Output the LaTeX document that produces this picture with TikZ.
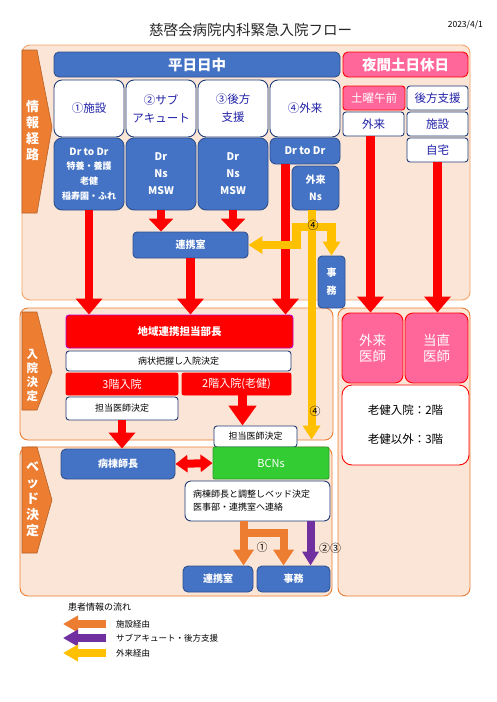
\documentclass[tikz,border=0pt]{standalone}
\usepackage{fontspec}
\setmainfont{Noto Sans CJK JP}
\usetikzlibrary{arrows.meta,calc}
\definecolor{cPeach}{HTML}{FBE5D6}
\definecolor{cPB}{HTML}{F4A46A}
\definecolor{cOB}{HTML}{ED7D31}
\definecolor{cTab}{HTML}{ED7D31}
\definecolor{cTabD}{HTML}{B4622A}
\definecolor{cBlue}{HTML}{4472C4}
\definecolor{cBlueD}{HTML}{2F528F}
\definecolor{cWD}{HTML}{1F3C78}
\definecolor{cBT}{HTML}{2020A8}
\definecolor{cPink}{HTML}{FF6699}
\definecolor{cRed}{HTML}{FF0000}
\definecolor{cGreen}{HTML}{33CC33}
\definecolor{cGreenD}{HTML}{2E9E2E}
\definecolor{cYel}{HTML}{FFC000}
\definecolor{cOra}{HTML}{ED7D31}
\definecolor{cPur}{HTML}{7030A0}
\definecolor{cMag}{HTML}{C000C0}
\newcommand\bx[7]{%
 \pgfmathsetmacro\bxw{#4-#2}\pgfmathsetmacro\bxh{#5-#3}%
 \pgfmathsetmacro\bxx{(#2+#4)/2}\pgfmathsetmacro\bxy{(#3+#5)/2}%
 \node[#6, minimum width=\bxw pt, minimum height=\bxh pt] (#1) at (\bxx,\bxy) {#7};}
\newcommand\fs[2]{\fontsize{#1}{#2}\selectfont}
\tikzset{
 box/.style={inner sep=0pt, align=center, line width=0.9pt},
 wbig/.style={box, fill=white, draw=cWD, rounded corners=8pt, text=cBT, font=\fs{11.5}{18}},
 bbig/.style={box, fill=cBlue, draw=cBlueD, rounded corners=8pt, text=white},
 wsm/.style={box, fill=white, draw=cWD, rounded corners=3pt, text=cBT, font=\fs{11.5}{14}},
 psm/.style={box, fill=cPink, draw=cRed, rounded corners=3pt, text=white, font=\fs{11.5}{14}},
 bsm/.style={box, fill=cBlue, draw=cBlueD, rounded corners=4pt, text=white, font=\fs{10}{12}\bfseries},
 wk/.style={box, fill=white, draw=cWD, rounded corners=3pt, text=black, font=\fs{9}{11}},
 rbox/.style={box, fill=cRed, draw=cRed, rounded corners=2pt, text=white, font=\fs{11}{13}},
 panelA/.style={fill=cPeach, draw=cPB, line width=0.9pt, rounded corners=8pt},
 panelB/.style={fill=cPeach, draw=cOB, line width=0.9pt, rounded corners=8pt},
 tabshape/.style={fill=cTab, draw=cTabD, line width=0.6pt},
 tabtxt/.style={text=white, align=center, inner sep=0pt},
 lbl/.style={inner sep=0pt, text=black, font=\fs{11}{13}},
 redA/.style={draw=cRed, line width=8.5pt, -{Triangle[length=16pt,width=26pt]}},
 redS/.style={draw=cRed, line width=8.5pt, -{Triangle[length=13pt,width=24pt]}},
 redL/.style={draw=cRed, line width=8.5pt, -{Triangle[length=20pt,width=27pt]}},
 redD/.style={draw=cRed, line width=8pt, {Triangle[length=12pt,width=17pt]}-{Triangle[length=12pt,width=17pt]}},
 yelA/.style={draw=cYel, line width=8pt, -{Triangle[length=14pt,width=17pt]}},
 oraA/.style={draw=cOra, line width=8pt, -{Triangle[length=16pt,width=20pt]}},
 purA/.style={draw=cPur, line width=8pt, -{Triangle[length=14pt,width=16pt]}},
 legA/.style={line width=8pt, -{Triangle[length=15pt,width=16pt]}},
}
\begin{document}
\begin{tikzpicture}[x=1pt,y=-1pt,line join=miter]
\useasboundingbox (0,0) rectangle (497,702);
\fill[white] (0,0) rectangle (497,702);
% title
\node[inner sep=0pt, font=\fs{14.5}{16}, text=black!85] (title) at (250.5,30) {慈啓会病院内科緊急入院フロー};
\node[inner sep=0pt, anchor=east, font=\fs{8.5}{10}] (date) at (483,25) {2023/4/1};
% panels
\draw[panelA] (22,45) rectangle (470,300);
\draw[panelB] (20,308) rectangle (333,440);
\draw[panelB] (20,447) rectangle (332,596);
\draw[panelB] (338,308) rectangle (470,596);
% tabs
\draw[tabshape] (22,50) -- (37,50) -- (52,127) -- (37,213) -- (22,213) -- cycle;
\draw[tabshape] (22,312) -- (37,312) -- (52,372) -- (37,410) -- (22,410) -- cycle;
\draw[tabshape] (22,447) -- (37,447) -- (52,500) -- (37,553) -- (22,553) -- cycle;
\node[tabtxt, font=\fs{13}{16}\bfseries] (t1) at (32.5,131) {情\\報\\経\\路};
\node[tabtxt, font=\fs{11.5}{14}\bfseries] (t2) at (32.5,375) {入\\院\\決\\定};
\node[tabtxt, font=\fs{13}{16}\bfseries] (t3) at (32.5,499) {ベ\\ッ\\ド\\決\\定};
% headers
\bx{h1}{54}{52}{340}{77}{box, fill=cBlue, draw=cBlueD, rounded corners=5pt, text=white, font=\fs{14.5}{16}\bfseries}{平日日中}
\bx{h2}{343}{52}{468}{77}{box, fill=cPink, draw=cRed, rounded corners=5pt, text=white, font=\fs{14.5}{16}\bfseries}{夜間土日休日}
% top white boxes
\bx{w1}{54}{80}{124}{137}{wbig}{①施設}
\bx{w2}{126}{80}{196}{137}{wbig}{②サブ\\アキュート}
\bx{w3}{198}{80}{268}{137}{wbig}{③後方\\支援}
\bx{w4}{270}{80}{340}{137}{wbig}{④外来}
% blue boxes
\bx{b1}{54}{138}{124}{210}{bbig, font=\fs{9}{14.7}\bfseries}{{\fs{10}{14.7}Dr to Dr}\\特養・養護\\老健\\稲寿園・ふれ}
\bx{b2}{126}{138}{196}{210}{bbig, font=\fs{10.5}{17}\bfseries}{Dr\\Ns\\MSW}
\bx{b3}{198}{138}{268}{210}{bbig, font=\fs{10.5}{17}\bfseries}{Dr\\Ns\\MSW}
\bx{b4}{270}{138}{340}{164}{bbig, rounded corners=6pt, font=\fs{10.5}{12}\bfseries}{Dr to Dr}
\bx{gns}{292}{166}{339}{210}{bbig, rounded corners=6pt, font=\fs{10}{17}\bfseries}{外来\\Ns}
% right top boxes
\bx{s1}{343}{86}{405}{110}{psm}{土曜午前}
\bx{s2}{407}{86}{468}{110}{wsm}{後方支援}
\bx{s3}{343}{112}{404}{136}{wsm}{外来}
\bx{s4}{407}{112}{468}{136}{wsm}{施設}
\bx{s5}{407}{138}{468}{162}{wsm}{自宅}
% middle
\bx{renkei}{133}{232}{248}{258}{bsm}{連携室}
\bx{jimu}{318}{256}{345}{308}{bsm, font=\fs{10}{18}\bfseries}{事\\務}
\bx{chiiki}{66}{315}{293}{348}{box, fill=cRed, draw=cMag, rounded corners=3pt, text=white, font=\fs{10.5}{12}\bfseries}{地域連携担当部長}
\bx{byojo}{66}{351}{291}{371}{wk}{病状把握し入院決定}
\bx{f3}{66}{373}{178}{395}{rbox}{3階入院}
\bx{f2}{182}{373}{291}{395}{rbox}{2階入院(老健)}
\bx{tanto1}{66}{397}{178}{420}{wk}{担当医師決定}
\bx{tanto2}{214}{426}{297}{447}{wk}{担当医師決定}
\bx{byoto}{61}{449}{175}{479}{bsm, rounded corners=5pt}{病棟師長}
\bx{bcns}{213}{447}{329}{479}{box, fill=cGreen, draw=cGreenD, rounded corners=2pt, text=white, font=\fs{11}{13}}{BCNs}
\node[box, fill=white, draw=cWD, rounded corners=6pt, text=black, font=\fs{9}{13}, align=left, text width=129pt, inner xsep=8pt, minimum height=40pt] (bed) at (257.5,501) {病棟師長と調整しベッド決定\\医事部・連携室へ連絡};
\bx{rk2}{183}{566}{253}{592}{bsm, rounded corners=5pt}{連携室}
\bx{jm2}{257}{566}{330}{592}{bsm, rounded corners=5pt}{事務}
% right panel
\bx{gdoc}{342}{313}{403}{383}{box, fill=cPink, draw=cRed, rounded corners=8pt, text=white, font=\fs{13.5}{16}}{外来\\医師}
\bx{tdoc}{405}{313}{468}{383}{box, fill=cPink, draw=cRed, rounded corners=8pt, text=white, font=\fs{13.5}{16}}{当直\\医師}
\bx{rule}{342}{385}{469}{465}{box, fill=white, draw=cRed, rounded corners=10pt, text=black, font=\fs{11.5}{29}}{老健入院：2階\\老健以外：3階}
% red arrows
\draw[redA] (b1.south) -- (b1.south |- chiiki.north);
\draw[redS] (b2.south) -- (b2.south |- renkei.north);
\draw[redS] (b3.south) -- (b3.south |- renkei.north);
\draw[redA] (renkei.south) -- (renkei.south |- chiiki.north);
\coordinate (r4) at ($(b4.south west)+(16,0)$);
\draw[redA] (r4) -- (r4 |- chiiki.north);
\coordinate (r5) at ($(s3.south)+(-3,0)$);
\draw[redA] (r5) -- (r5 |- gdoc.north);
\draw[redA] (s5.south) -- (s5.south |- tdoc.north);
\draw[redA] (tanto1.south) -- (tanto1.south |- byoto.north);
\coordinate (r6) at ($(f2.south)+(6,0)$);
\draw[redL] (r6) -- (r6 |- tanto2.north);
\draw[redD] (byoto.east) -- (bcns.west);
% yellow arrows
\coordinate (y0) at ($(gns.south west)+(20,0)$);
\coordinate (yj) at (312,227);
\draw[yelA, shorten >=7pt] (y0) -- (y0 |- bcns.north);
\draw[yelA, line width=8.5pt] (yj) -| ($(renkei.east)+(48,0)$) -- (renkei.east);
\draw[yelA, line width=8.5pt] (yj) -| (jimu.north);
\node[lbl] (n4a) at (313,225) {④};
\node[lbl] (n4b) at (315,411) {④};
% orange & purple
\coordinate (o1) at ($(bed.south west)+(59,0)$);
\coordinate (o2) at ($(o1)+(-4,12)$);
\draw[oraA] (o1) -- (o1 |- rk2.north);
\draw[oraA] (o2) -| ($(jm2.north west)+(27,0)$);
\coordinate (p1) at ($(bed.south west)+(126,0)$);
\draw[purA] (p1) -- (p1 |- jm2.north);
\node[lbl] (n1) at (262,547) {①};
\node[lbl] (n23) at (330,548) {②③};
% legend
\node[inner sep=0pt, anchor=west, font=\fs{9}{11}] (legt) at (68,607) {患者情報の流れ};
\coordinate (la) at (106,624); \coordinate (lb) at (63,624);
\draw[legA, draw=cOra] (la) -- (lb);
\node[inner sep=0pt, anchor=west, font=\fs{8.5}{10}] (leg1) at (116,624) {施設経由};
\coordinate (lc) at (106,638); \coordinate (ld) at (63,638);
\draw[legA, draw=cPur] (lc) -- (ld);
\node[inner sep=0pt, anchor=west, font=\fs{8.5}{10}] (leg2) at (116,638) {サブアキュート・後方支援};
\coordinate (le) at (106,653); \coordinate (lf) at (63,653);
\draw[legA, draw=cYel] (le) -- (lf);
\node[inner sep=0pt, anchor=west, font=\fs{8.5}{10}] (leg3) at (116,653) {外来経由};
\end{tikzpicture}
\end{document}
